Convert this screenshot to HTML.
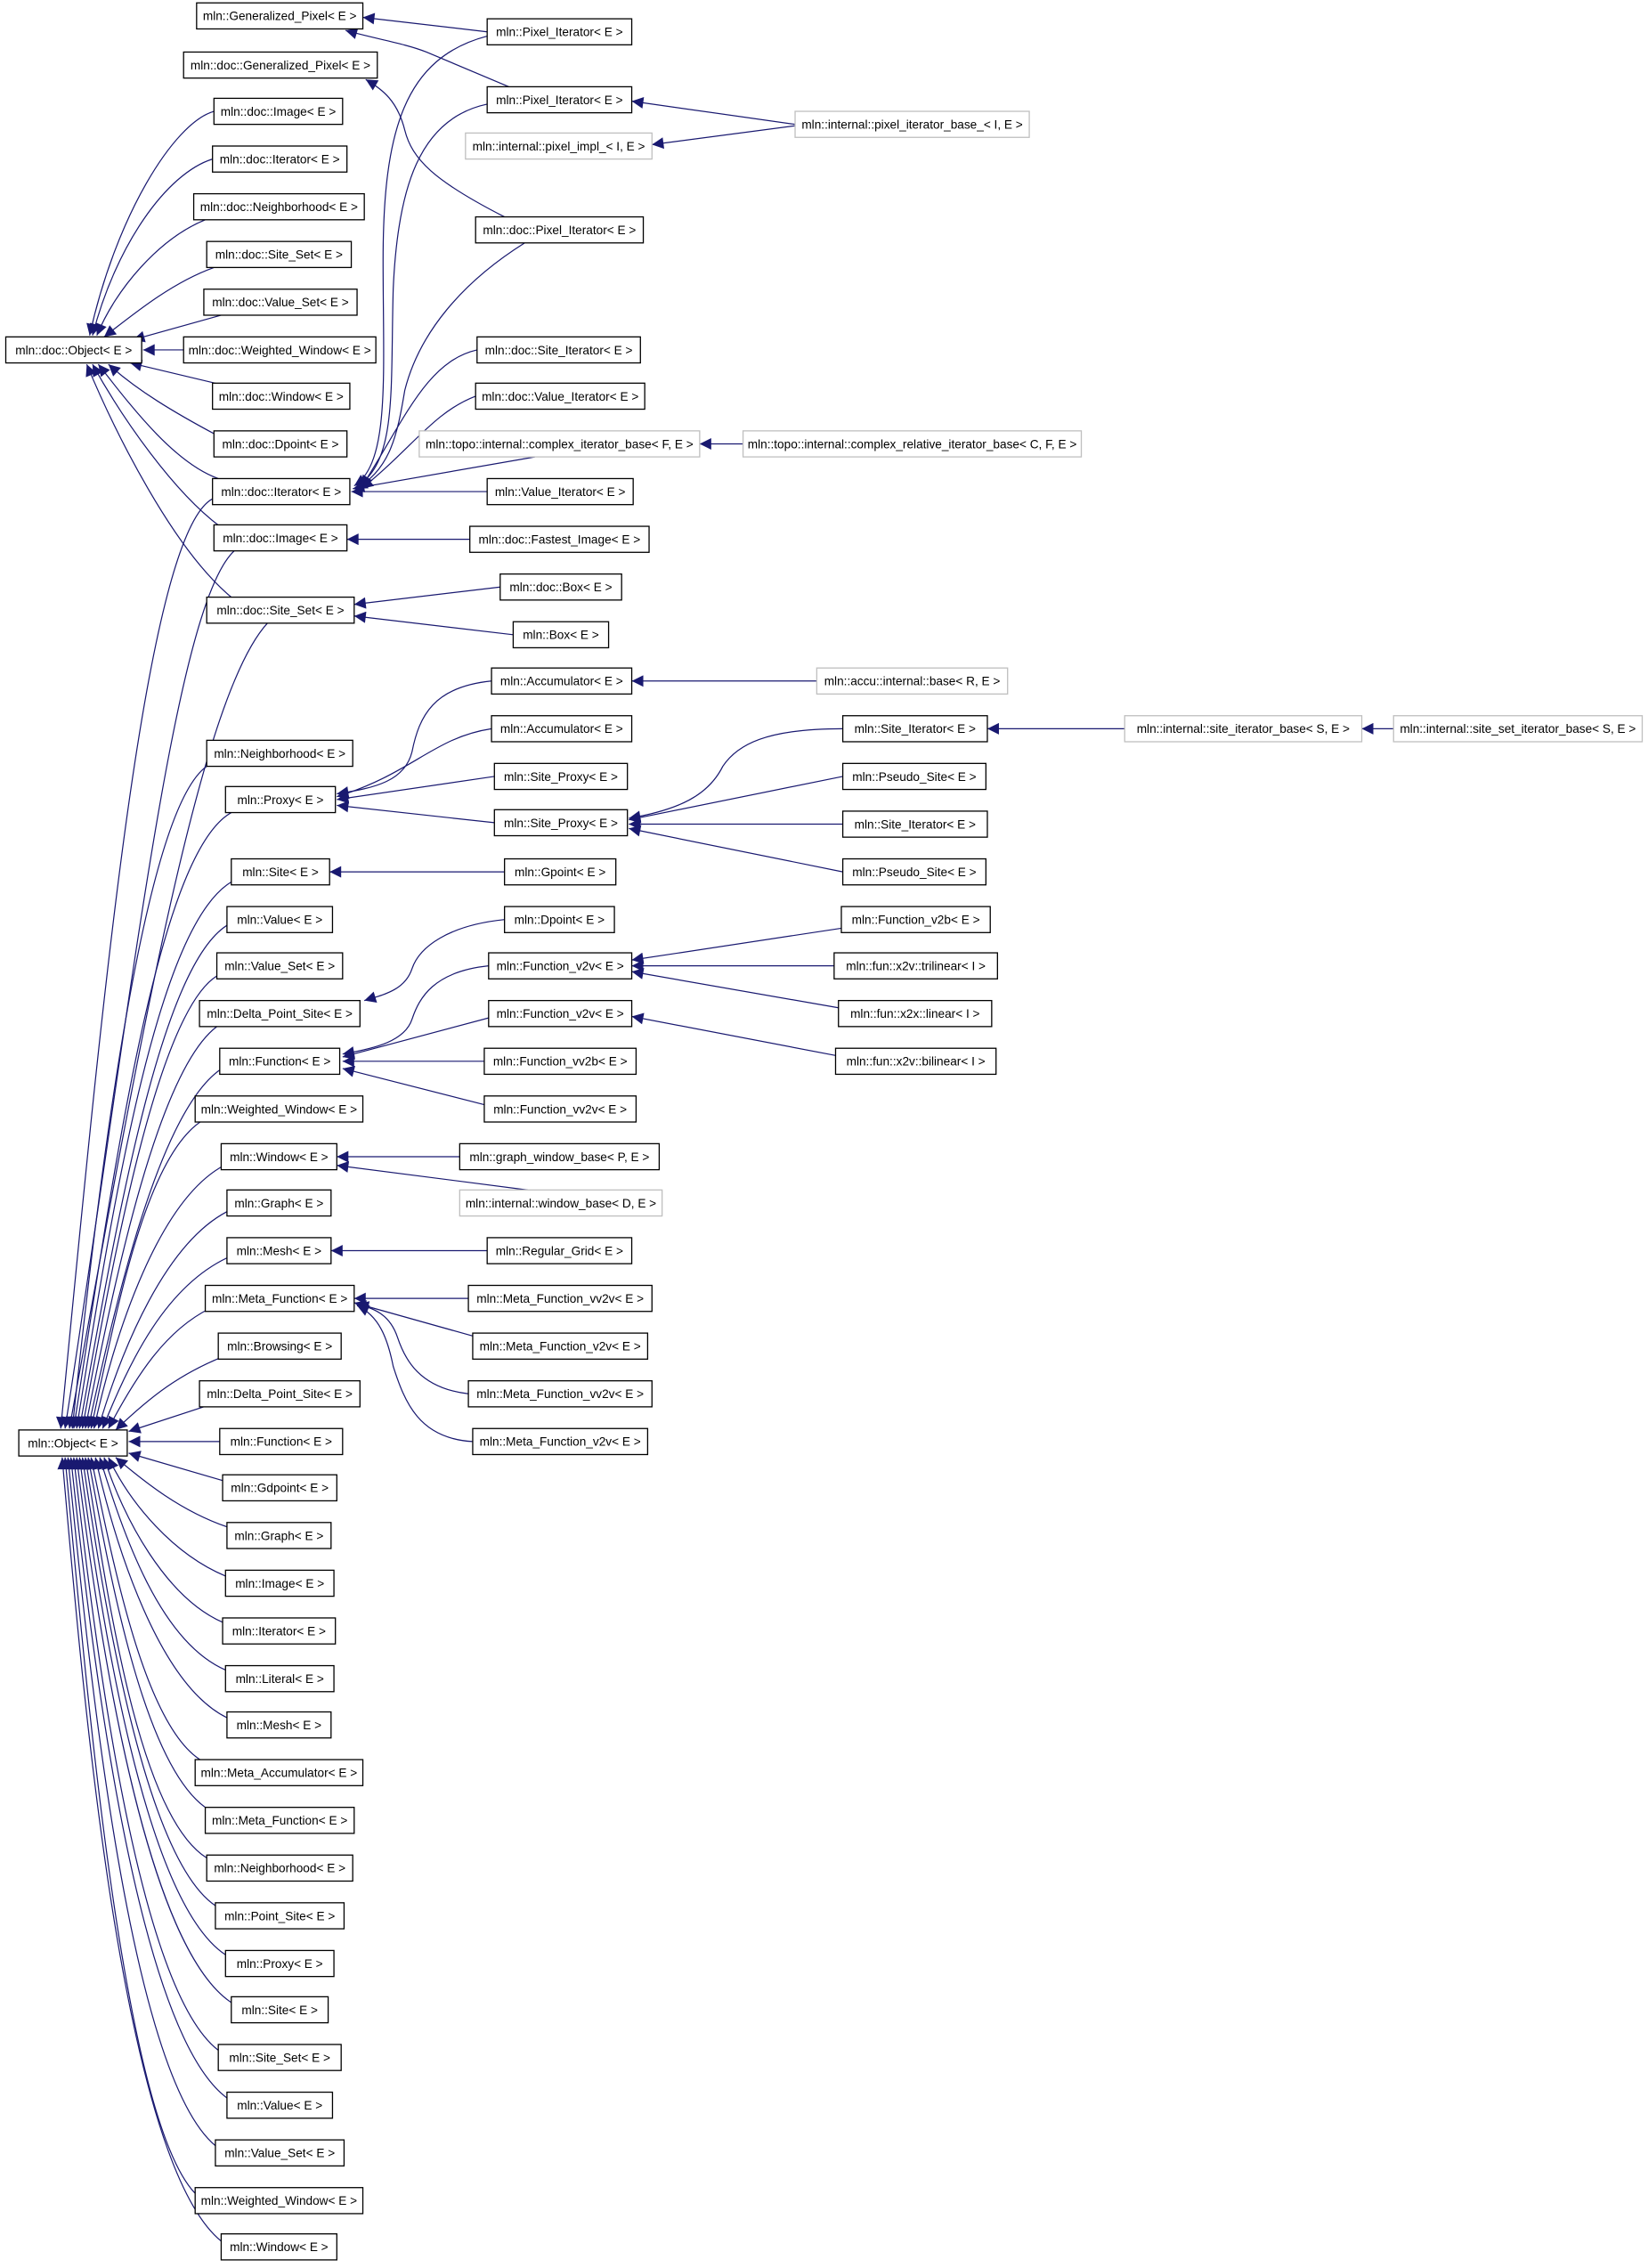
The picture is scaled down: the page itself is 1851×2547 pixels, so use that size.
<!DOCTYPE html>
<html><head><meta charset="utf-8"><style>
html,body{margin:0;padding:0;background:#fff}
svg{display:block}
text{font-family:"Liberation Sans",sans-serif;font-size:8.4px;fill:#000;text-anchor:middle}
.b rect{fill:#fff;stroke:#000;stroke-width:0.8}
.g rect{fill:#fff;stroke:#bfbfbf;stroke-width:0.8}
.e path{fill:none;stroke:#191970;stroke-width:0.75}
</style></head><body>
<svg width="1851" height="2547" viewBox="0 0 1140 1568.6" preserveAspectRatio="none" xmlns="http://www.w3.org/2000/svg">
<defs><marker id="a" viewBox="0 0 10 10" refX="10" refY="5" markerWidth="9" markerHeight="8" markerUnits="userSpaceOnUse" orient="auto"><path d="M0,0 L10,5 L0,10z" fill="#191970"/></marker></defs>
<g class="e" marker-end="url(#a)">
<path d="M337,22 L251,12" marker-end="url(#a)"/>
<path d="M352,60 L295,36 C280,30 260,27 239,21" marker-end="url(#a)"/>
<path d="M349,150 C300,125 285,110 280,90 C275,70 265,62 253,55" marker-end="url(#a)"/>
<path d="M550,86 L437,70" marker-end="url(#a)"/>
<path d="M550,87 L451,100" marker-end="url(#a)"/>
<path d="M337,25 C280,40 265,90 265,180 C265,260 270,320 245,336" marker-end="url(#a)"/>
<path d="M337,72 C290,82 275,130 272,200 C270,270 275,320 246,337" marker-end="url(#a)"/>
<path d="M363,168 C320,195 290,230 280,270 C275,300 270,325 246,338" marker-end="url(#a)"/>
<path d="M330,242 C295,250 280,290 250,337" marker-end="url(#a)"/>
<path d="M329,274 C300,285 285,310 250,338" marker-end="url(#a)"/>
<path d="M370,316 L244,338" marker-end="url(#a)"/>
<path d="M337,340 L243,340" marker-end="url(#a)"/>
<path d="M514,307 L484,307" marker-end="url(#a)"/>
<path d="M325,373 L240,373" marker-end="url(#a)"/>
<path d="M346,406 L245,418" marker-end="url(#a)"/>
<path d="M355,439 L245,426" marker-end="url(#a)"/>
<path d="M148,77 C120,85 80,150 62,232" marker-end="url(#a)"/>
<path d="M147,110 C115,120 80,170 64,232" marker-end="url(#a)"/>
<path d="M142,152 C110,165 80,200 67,232" marker-end="url(#a)"/>
<path d="M148,185 C120,195 95,215 72,233" marker-end="url(#a)"/>
<path d="M153,218 L92,235" marker-end="url(#a)"/>
<path d="M127,242 L99,242" marker-end="url(#a)"/>
<path d="M153,266 L90,251" marker-end="url(#a)"/>
<path d="M150,301 C120,285 95,270 75,252" marker-end="url(#a)"/>
<path d="M151,331 C120,320 90,280 68,252" marker-end="url(#a)"/>
<path d="M152,364 C120,340 85,290 64,252" marker-end="url(#a)"/>
<path d="M160,413 C120,380 80,300 60,252" marker-end="url(#a)"/>
<path d="M147,345 C100,370 70,700 42,988" marker-end="url(#a)"/>
<path d="M162,381 C120,420 90,700 45,988" marker-end="url(#a)"/>
<path d="M185,431 C140,480 100,700 48,988" marker-end="url(#a)"/>
<path d="M143,530 C100,560 70,800 50,988" marker-end="url(#a)"/>
<path d="M160,562 C110,590 80,800 51,988" marker-end="url(#a)"/>
<path d="M160,610 C110,640 80,820 53,988" marker-end="url(#a)"/>
<path d="M157,640 C110,670 80,850 55,988" marker-end="url(#a)"/>
<path d="M150,675 C110,700 80,860 57,988" marker-end="url(#a)"/>
<path d="M150,710 C110,740 80,880 59,988" marker-end="url(#a)"/>
<path d="M152,740 C110,770 80,900 61,988" marker-end="url(#a)"/>
<path d="M140,775 C100,800 80,910 63,988" marker-end="url(#a)"/>
<path d="M155,806 C110,830 80,920 65,988" marker-end="url(#a)"/>
<path d="M157,838 C115,860 85,930 68,988" marker-end="url(#a)"/>
<path d="M157,870 C115,890 90,940 71,988" marker-end="url(#a)"/>
<path d="M145,905 C115,920 95,950 75,988" marker-end="url(#a)"/>
<path d="M155,938 C125,950 105,965 80,989" marker-end="url(#a)"/>
<path d="M150,970 L89,990" marker-end="url(#a)"/>
<path d="M152,997 L89,997" marker-end="url(#a)"/>
<path d="M154,1024 L89,1005" marker-end="url(#a)"/>
<path d="M157,1056 C125,1045 100,1025 80,1008" marker-end="url(#a)"/>
<path d="M156,1090 C120,1075 90,1040 75,1008" marker-end="url(#a)"/>
<path d="M154,1122 C115,1105 85,1050 72,1008" marker-end="url(#a)"/>
<path d="M156,1155 C110,1135 85,1060 69,1008" marker-end="url(#a)"/>
<path d="M157,1188 C110,1165 80,1070 66,1008" marker-end="url(#a)"/>
<path d="M140,1218 C100,1195 78,1080 63,1008" marker-end="url(#a)"/>
<path d="M145,1252 C100,1225 76,1090 61,1008" marker-end="url(#a)"/>
<path d="M143,1285 C95,1255 74,1100 59,1008" marker-end="url(#a)"/>
<path d="M149,1318 C100,1285 72,1110 57,1008" marker-end="url(#a)"/>
<path d="M156,1352 C100,1315 70,1120 55,1008" marker-end="url(#a)"/>
<path d="M160,1385 C100,1345 68,1130 53,1008" marker-end="url(#a)"/>
<path d="M151,1418 C95,1375 66,1140 51,1008" marker-end="url(#a)"/>
<path d="M157,1451 C95,1405 64,1150 49,1008" marker-end="url(#a)"/>
<path d="M149,1484 C90,1435 62,1160 47,1008" marker-end="url(#a)"/>
<path d="M135,1517 C85,1465 60,1170 45,1008" marker-end="url(#a)"/>
<path d="M153,1550 C85,1495 58,1180 43,1008" marker-end="url(#a)"/>
<path d="M340,471 C300,475 290,495 285,520 C280,540 260,545 233,549" marker-end="url(#a)"/>
<path d="M340,504 C300,510 285,535 233,551" marker-end="url(#a)"/>
<path d="M342,537 L233,553" marker-end="url(#a)"/>
<path d="M342,569 L233,557" marker-end="url(#a)"/>
<path d="M565,471 L437,471" marker-end="url(#a)"/>
<path d="M583,504 C530,504 510,515 500,530 C490,550 470,560 435,566" marker-end="url(#a)"/>
<path d="M583,537 L435,567" marker-end="url(#a)"/>
<path d="M583,570 L435,570" marker-end="url(#a)"/>
<path d="M583,603 L435,573" marker-end="url(#a)"/>
<path d="M778,504 L683,504" marker-end="url(#a)"/>
<path d="M964,504 L942,504" marker-end="url(#a)"/>
<path d="M349,603 L228,603" marker-end="url(#a)"/>
<path d="M349,636 C310,640 290,655 285,670 C280,685 265,688 252,692" marker-end="url(#a)"/>
<path d="M338,668 C300,672 290,690 285,705 C280,720 260,725 237,729" marker-end="url(#a)"/>
<path d="M338,704 L237,731" marker-end="url(#a)"/>
<path d="M335,734 L237,734" marker-end="url(#a)"/>
<path d="M335,764 L237,739" marker-end="url(#a)"/>
<path d="M582,642 L437,664" marker-end="url(#a)"/>
<path d="M577,668 L437,668" marker-end="url(#a)"/>
<path d="M580,697 L437,672" marker-end="url(#a)"/>
<path d="M578,730 L437,703" marker-end="url(#a)"/>
<path d="M318,800 L233,800" marker-end="url(#a)"/>
<path d="M365,823 L233,806" marker-end="url(#a)"/>
<path d="M337,865 L229,865" marker-end="url(#a)"/>
<path d="M324,898 L245,898" marker-end="url(#a)"/>
<path d="M327,924 L245,901" marker-end="url(#a)"/>
<path d="M324,964 C290,960 280,940 275,925 C270,910 260,905 247,902" marker-end="url(#a)"/>
<path d="M327,997 C290,995 280,970 272,945 C268,925 262,910 247,903" marker-end="url(#a)"/>
</g>
<g class="b">
<rect x="4" y="233" width="94" height="18"/><text x="51" y="245">mln::doc::Object&lt; E &gt;</text>
<rect x="13" y="989" width="75" height="18"/><text x="50.5" y="1001">mln::Object&lt; E &gt;</text>
<rect x="136" y="2" width="115" height="18"/><text x="193.5" y="14">mln::Generalized_Pixel&lt; E &gt;</text>
<rect x="127" y="36" width="134" height="18"/><text x="194" y="48">mln::doc::Generalized_Pixel&lt; E &gt;</text>
<rect x="148" y="68" width="89" height="18"/><text x="192.5" y="80">mln::doc::Image&lt; E &gt;</text>
<rect x="147" y="101" width="93" height="18"/><text x="193.5" y="113">mln::doc::Iterator&lt; E &gt;</text>
<rect x="134" y="134" width="118" height="18"/><text x="193" y="146">mln::doc::Neighborhood&lt; E &gt;</text>
<rect x="143" y="167" width="100" height="18"/><text x="193" y="179">mln::doc::Site_Set&lt; E &gt;</text>
<rect x="141" y="200" width="106" height="18"/><text x="194" y="212">mln::doc::Value_Set&lt; E &gt;</text>
<rect x="127" y="233" width="133" height="18"/><text x="193.5" y="245">mln::doc::Weighted_Window&lt; E &gt;</text>
<rect x="147" y="265" width="95" height="18"/><text x="194.5" y="277">mln::doc::Window&lt; E &gt;</text>
<rect x="148" y="298" width="92" height="18"/><text x="194" y="310">mln::doc::Dpoint&lt; E &gt;</text>
<rect x="147" y="331" width="95" height="18"/><text x="194.5" y="343">mln::doc::Iterator&lt; E &gt;</text>
<rect x="148" y="363" width="92" height="18"/><text x="194" y="375">mln::doc::Image&lt; E &gt;</text>
<rect x="143" y="413" width="102" height="18"/><text x="194" y="425">mln::doc::Site_Set&lt; E &gt;</text>
<rect x="143" y="512" width="101" height="18"/><text x="193.5" y="524">mln::Neighborhood&lt; E &gt;</text>
<rect x="156" y="544" width="76" height="18"/><text x="194" y="556">mln::Proxy&lt; E &gt;</text>
<rect x="160" y="594" width="68" height="18"/><text x="194" y="606">mln::Site&lt; E &gt;</text>
<rect x="157" y="627" width="73" height="18"/><text x="193.5" y="639">mln::Value&lt; E &gt;</text>
<rect x="150" y="659" width="87" height="18"/><text x="193.5" y="671">mln::Value_Set&lt; E &gt;</text>
<rect x="138" y="692" width="111" height="18"/><text x="193.5" y="704">mln::Delta_Point_Site&lt; E &gt;</text>
<rect x="152" y="725" width="83" height="18"/><text x="193.5" y="737">mln::Function&lt; E &gt;</text>
<rect x="135" y="758" width="116" height="18"/><text x="193" y="770">mln::Weighted_Window&lt; E &gt;</text>
<rect x="153" y="791" width="80" height="18"/><text x="193" y="803">mln::Window&lt; E &gt;</text>
<rect x="157" y="823" width="72" height="18"/><text x="193" y="835">mln::Graph&lt; E &gt;</text>
<rect x="157" y="856" width="72" height="18"/><text x="193" y="868">mln::Mesh&lt; E &gt;</text>
<rect x="142" y="889" width="103" height="18"/><text x="193.5" y="901">mln::Meta_Function&lt; E &gt;</text>
<rect x="151" y="922" width="85" height="18"/><text x="193.5" y="934">mln::Browsing&lt; E &gt;</text>
<rect x="138" y="955" width="111" height="18"/><text x="193.5" y="967">mln::Delta_Point_Site&lt; E &gt;</text>
<rect x="152" y="988" width="85" height="18"/><text x="194.5" y="1000">mln::Function&lt; E &gt;</text>
<rect x="154" y="1020" width="79" height="18"/><text x="193.5" y="1032">mln::Gdpoint&lt; E &gt;</text>
<rect x="157" y="1053" width="72" height="18"/><text x="193" y="1065">mln::Graph&lt; E &gt;</text>
<rect x="156" y="1086" width="75" height="18"/><text x="193.5" y="1098">mln::Image&lt; E &gt;</text>
<rect x="154" y="1119" width="78" height="18"/><text x="193" y="1131">mln::Iterator&lt; E &gt;</text>
<rect x="156" y="1152" width="75" height="18"/><text x="193.5" y="1164">mln::Literal&lt; E &gt;</text>
<rect x="157" y="1184" width="72" height="18"/><text x="193" y="1196">mln::Mesh&lt; E &gt;</text>
<rect x="135" y="1217" width="116" height="18"/><text x="193" y="1229">mln::Meta_Accumulator&lt; E &gt;</text>
<rect x="142" y="1250" width="103" height="18"/><text x="193.5" y="1262">mln::Meta_Function&lt; E &gt;</text>
<rect x="143" y="1283" width="101" height="18"/><text x="193.5" y="1295">mln::Neighborhood&lt; E &gt;</text>
<rect x="149" y="1316" width="89" height="18"/><text x="193.5" y="1328">mln::Point_Site&lt; E &gt;</text>
<rect x="156" y="1349" width="75" height="18"/><text x="193.5" y="1361">mln::Proxy&lt; E &gt;</text>
<rect x="160" y="1381" width="67" height="18"/><text x="193.5" y="1393">mln::Site&lt; E &gt;</text>
<rect x="151" y="1414" width="85" height="18"/><text x="193.5" y="1426">mln::Site_Set&lt; E &gt;</text>
<rect x="157" y="1447" width="73" height="18"/><text x="193.5" y="1459">mln::Value&lt; E &gt;</text>
<rect x="149" y="1480" width="89" height="18"/><text x="193.5" y="1492">mln::Value_Set&lt; E &gt;</text>
<rect x="135" y="1513" width="116" height="18"/><text x="193" y="1525">mln::Weighted_Window&lt; E &gt;</text>
<rect x="153" y="1545" width="80" height="18"/><text x="193" y="1557">mln::Window&lt; E &gt;</text>
<rect x="337" y="13" width="100" height="18"/><text x="387" y="25">mln::Pixel_Iterator&lt; E &gt;</text>
<rect x="337" y="60" width="100" height="18"/><text x="387" y="72">mln::Pixel_Iterator&lt; E &gt;</text>
<rect x="329" y="150" width="116" height="18"/><text x="387" y="162">mln::doc::Pixel_Iterator&lt; E &gt;</text>
<rect x="330" y="233" width="113" height="18"/><text x="386.5" y="245">mln::doc::Site_Iterator&lt; E &gt;</text>
<rect x="329" y="265" width="117" height="18"/><text x="387.5" y="277">mln::doc::Value_Iterator&lt; E &gt;</text>
<rect x="337" y="331" width="101" height="18"/><text x="387.5" y="343">mln::Value_Iterator&lt; E &gt;</text>
<rect x="325" y="364" width="124" height="18"/><text x="387" y="376">mln::doc::Fastest_Image&lt; E &gt;</text>
<rect x="346" y="397" width="84" height="18"/><text x="388" y="409">mln::doc::Box&lt; E &gt;</text>
<rect x="355" y="430" width="66" height="18"/><text x="388" y="442">mln::Box&lt; E &gt;</text>
<rect x="340" y="462" width="97" height="18"/><text x="388.5" y="474">mln::Accumulator&lt; E &gt;</text>
<rect x="340" y="495" width="97" height="18"/><text x="388.5" y="507">mln::Accumulator&lt; E &gt;</text>
<rect x="342" y="528" width="92" height="18"/><text x="388" y="540">mln::Site_Proxy&lt; E &gt;</text>
<rect x="342" y="560" width="92" height="18"/><text x="388" y="572">mln::Site_Proxy&lt; E &gt;</text>
<rect x="349" y="594" width="77" height="18"/><text x="387.5" y="606">mln::Gpoint&lt; E &gt;</text>
<rect x="349" y="627" width="76" height="18"/><text x="387" y="639">mln::Dpoint&lt; E &gt;</text>
<rect x="338" y="659" width="99" height="18"/><text x="387.5" y="671">mln::Function_v2v&lt; E &gt;</text>
<rect x="338" y="692" width="99" height="18"/><text x="387.5" y="704">mln::Function_v2v&lt; E &gt;</text>
<rect x="335" y="725" width="105" height="18"/><text x="387.5" y="737">mln::Function_vv2b&lt; E &gt;</text>
<rect x="335" y="758" width="105" height="18"/><text x="387.5" y="770">mln::Function_vv2v&lt; E &gt;</text>
<rect x="318" y="791" width="138" height="18"/><text x="387" y="803">mln::graph_window_base&lt; P, E &gt;</text>
<rect x="337" y="856" width="100" height="18"/><text x="387" y="868">mln::Regular_Grid&lt; E &gt;</text>
<rect x="324" y="889" width="127" height="18"/><text x="387.5" y="901">mln::Meta_Function_vv2v&lt; E &gt;</text>
<rect x="327" y="922" width="121" height="18"/><text x="387.5" y="934">mln::Meta_Function_v2v&lt; E &gt;</text>
<rect x="324" y="955" width="127" height="18"/><text x="387.5" y="967">mln::Meta_Function_vv2v&lt; E &gt;</text>
<rect x="327" y="988" width="121" height="18"/><text x="387.5" y="1000">mln::Meta_Function_v2v&lt; E &gt;</text>
<rect x="583" y="495" width="100" height="18"/><text x="633" y="507">mln::Site_Iterator&lt; E &gt;</text>
<rect x="583" y="528" width="99" height="18"/><text x="632.5" y="540">mln::Pseudo_Site&lt; E &gt;</text>
<rect x="583" y="561" width="100" height="18"/><text x="633" y="573">mln::Site_Iterator&lt; E &gt;</text>
<rect x="583" y="594" width="99" height="18"/><text x="632.5" y="606">mln::Pseudo_Site&lt; E &gt;</text>
<rect x="582" y="627" width="103" height="18"/><text x="633.5" y="639">mln::Function_v2b&lt; E &gt;</text>
<rect x="577" y="659" width="113" height="18"/><text x="633.5" y="671">mln::fun::x2v::trilinear&lt; I &gt;</text>
<rect x="580" y="692" width="106" height="18"/><text x="633" y="704">mln::fun::x2x::linear&lt; I &gt;</text>
<rect x="578" y="725" width="111" height="18"/><text x="633.5" y="737">mln::fun::x2v::bilinear&lt; I &gt;</text>
</g>
<g class="g">
<rect x="322" y="92" width="129" height="18"/><text x="386.5" y="104">mln::internal::pixel_impl_&lt; I, E &gt;</text>
<rect x="550" y="77" width="162" height="18"/><text x="631" y="89">mln::internal::pixel_iterator_base_&lt; I, E &gt;</text>
<rect x="290" y="298" width="194" height="18"/><text x="387" y="310">mln::topo::internal::complex_iterator_base&lt; F, E &gt;</text>
<rect x="514" y="298" width="234" height="18"/><text x="631" y="310">mln::topo::internal::complex_relative_iterator_base&lt; C, F, E &gt;</text>
<rect x="565" y="462" width="132" height="18"/><text x="631" y="474">mln::accu::internal::base&lt; R, E &gt;</text>
<rect x="318" y="823" width="140" height="18"/><text x="388" y="835">mln::internal::window_base&lt; D, E &gt;</text>
<rect x="778" y="495" width="164" height="18"/><text x="860" y="507">mln::internal::site_iterator_base&lt; S, E &gt;</text>
<rect x="964" y="495" width="172" height="18"/><text x="1050" y="507">mln::internal::site_set_iterator_base&lt; S, E &gt;</text>
</g>
</svg>
</body></html>
